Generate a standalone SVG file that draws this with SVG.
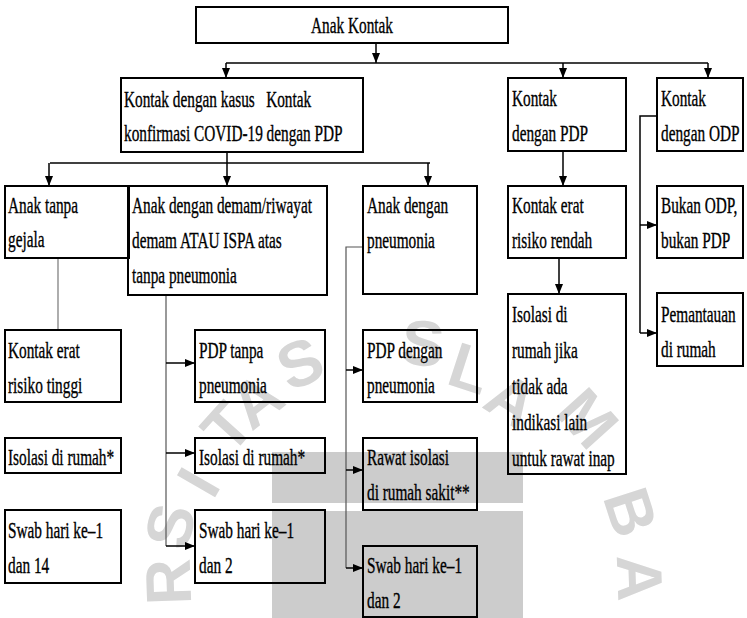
<svg xmlns="http://www.w3.org/2000/svg" width="747" height="618" viewBox="0 0 747 618">
<style>
.t{font-family:"Liberation Serif","Times New Roman",serif;font-size:23px;fill:#000;stroke:#000;stroke-width:0.35}
.b{fill:none;stroke:#000;stroke-width:2}
.c{fill:none;stroke:#000;stroke-width:1.5}
.g{fill:none;stroke:#555;stroke-width:1.2}
.wm{font-family:"Liberation Sans",Arial,sans-serif;font-weight:bold;font-size:64px;fill:#d6d6d6}
</style>
<defs>
<marker id="ah" markerUnits="userSpaceOnUse" markerWidth="10" markerHeight="8" refX="10" refY="4" orient="auto">
<path d="M0,0 L10,4 L0,8 z" fill="#000"/>
</marker>
</defs>
<rect width="747" height="618" fill="#fff"/>
<g id="watermark">
<rect x="272" y="452" width="251" height="51" fill="#cccccc"/>
<rect x="272" y="511" width="251" height="107" fill="#cccccc"/>
<text class="wm" text-anchor="middle" dy="0.35em" transform="translate(168,582) rotate(-92)">R</text>
<text class="wm" text-anchor="middle" dy="0.35em" transform="translate(170,526) rotate(-77)">S</text>
<text class="wm" text-anchor="middle" dy="0.35em" transform="translate(198,482) rotate(-60)">I</text>
<text class="wm" text-anchor="middle" dy="0.35em" transform="translate(227,427) rotate(-48)">T</text>
<text class="wm" text-anchor="middle" dy="0.35em" transform="translate(256,400) rotate(-38)">A</text>
<text class="wm" text-anchor="middle" dy="0.35em" transform="translate(300,363) rotate(-24)">S</text>
<text class="wm" text-anchor="middle" dy="0.35em" transform="translate(423,343) rotate(5)">S</text>
<text class="wm" text-anchor="middle" dy="0.35em" transform="translate(470,368) rotate(18)">L</text>
<text class="wm" text-anchor="middle" dy="0.35em" transform="translate(512,400) rotate(32)">A</text>
<text class="wm" text-anchor="middle" dy="0.35em" transform="translate(588,418) rotate(48)">M</text>
<text class="wm" text-anchor="middle" dy="0.35em" transform="translate(631,512) rotate(72)">B</text>
<text class="wm" text-anchor="middle" dy="0.35em" transform="translate(640,578) rotate(88)">A</text>
</g>
<g id="connectors">
<line class="c" x1="376" y1="43" x2="376" y2="63" marker-end="url(#ah)"/>
<line class="c" x1="226" y1="63" x2="708" y2="63"/>
<line class="c" x1="226" y1="63" x2="226" y2="78" marker-end="url(#ah)"/>
<line class="c" x1="563" y1="63" x2="563" y2="78" marker-end="url(#ah)"/>
<line class="c" x1="708" y1="63" x2="708" y2="78" marker-end="url(#ah)"/>
<line class="c" x1="227" y1="152" x2="227" y2="186" marker-end="url(#ah)"/>
<line class="c" x1="50" y1="163" x2="430" y2="163"/>
<line class="c" x1="49" y1="163" x2="49" y2="186" marker-end="url(#ah)"/>
<line class="c" x1="428" y1="163" x2="428" y2="186" marker-end="url(#ah)"/>
<line class="c" x1="563" y1="151" x2="563" y2="186" marker-end="url(#ah)"/>
<line class="c" x1="559" y1="258" x2="559" y2="294" marker-end="url(#ah)"/>
<polyline class="c" points="657,116 640,116 640,333"/>
<line class="c" x1="640" y1="225" x2="657" y2="225" marker-end="url(#ah)"/>
<line class="c" x1="640" y1="333" x2="657" y2="333" marker-end="url(#ah)"/>
<line x1="58" y1="258" x2="58" y2="330" stroke="#777" stroke-width="1.2"/>
<line class="g" x1="166" y1="295" x2="166" y2="546"/>
<line class="c" x1="166" y1="363" x2="195" y2="363" marker-end="url(#ah)"/>
<line class="c" x1="166" y1="453" x2="195" y2="453" marker-end="url(#ah)"/>
<line class="c" x1="166" y1="546" x2="195" y2="546" marker-end="url(#ah)"/>
<polyline class="g" points="363,247 346,247 346,568"/>
<line class="c" x1="346" y1="370" x2="363" y2="370" marker-end="url(#ah)"/>
<line class="c" x1="346" y1="470" x2="363" y2="470" marker-end="url(#ah)"/>
<line class="c" x1="346" y1="568" x2="363" y2="568" marker-end="url(#ah)"/>
</g>
<g id="n-anak-kontak">
<rect class="b" x="196" y="7" width="312" height="36"/>
<text class="t" text-anchor="middle" transform="translate(352,33) scale(0.665,1)">Anak Kontak</text>
</g>
<g id="n-kontak-kasus">
<rect class="b" x="121" y="78" width="242" height="74"/>
<text class="t" xml:space="preserve" transform="translate(124,107) scale(0.665,1)"><tspan x="0" y="0">Kontak dengan kasus   Kontak</tspan><tspan x="0" y="34">konfirmasi COVID-19 dengan PDP</tspan></text>
</g>
<g id="n-kontak-pdp">
<rect class="b" x="508" y="78" width="118" height="73"/>
<text class="t" transform="translate(512,106) scale(0.665,1)"><tspan x="0" y="0">Kontak</tspan><tspan x="0" y="35">dengan PDP</tspan></text>
</g>
<g id="n-kontak-odp">
<rect class="b" x="657" y="78" width="86" height="73"/>
<text class="t" transform="translate(661,106) scale(0.665,1)"><tspan x="0" y="0">Kontak</tspan><tspan x="0" y="35">dengan ODP</tspan></text>
</g>
<g id="n-tanpa-gejala">
<rect class="b" x="5" y="186" width="124" height="72"/>
<text class="t" transform="translate(8,213) scale(0.665,1)"><tspan x="0" y="0">Anak tanpa</tspan><tspan x="0" y="34">gejala</tspan></text>
</g>
<g id="n-demam">
<rect class="b" x="128" y="186" width="199" height="109"/>
<text class="t" transform="translate(132,213) scale(0.665,1)"><tspan x="0" y="0">Anak dengan demam/riwayat</tspan><tspan x="0" y="35">demam ATAU ISPA atas</tspan><tspan x="0" y="70">tanpa pneumonia</tspan></text>
</g>
<g id="n-pneumonia">
<rect class="b" x="363" y="186" width="114" height="108"/>
<text class="t" transform="translate(367,213) scale(0.665,1)"><tspan x="0" y="0">Anak dengan</tspan><tspan x="0" y="35">pneumonia</tspan></text>
</g>
<g id="n-erat-rendah">
<rect class="b" x="508" y="186" width="118" height="72"/>
<text class="t" transform="translate(512,213) scale(0.665,1)"><tspan x="0" y="0">Kontak erat</tspan><tspan x="0" y="35">risiko rendah</tspan></text>
</g>
<g id="n-bukan-odp">
<rect class="b" x="657" y="186" width="86" height="72"/>
<text class="t" transform="translate(661,213) scale(0.665,1)"><tspan x="0" y="0">Bukan ODP,</tspan><tspan x="0" y="35">bukan PDP</tspan></text>
</g>
<g id="n-erat-tinggi">
<rect class="b" x="5" y="330" width="116" height="72"/>
<text class="t" transform="translate(8,358) scale(0.665,1)"><tspan x="0" y="0">Kontak erat</tspan><tspan x="0" y="35">risiko tinggi</tspan></text>
</g>
<g id="n-isolasi-1">
<rect class="b" x="5" y="438" width="116" height="35"/>
<text class="t" transform="translate(8,465) scale(0.665,1)">Isolasi di rumah*</text>
</g>
<g id="n-swab-1">
<rect class="b" x="5" y="510" width="116" height="73"/>
<text class="t" transform="translate(8,538) scale(0.665,1)"><tspan x="0" y="0">Swab hari ke–1</tspan><tspan x="0" y="35">dan 14</tspan></text>
</g>
<g id="n-pdp-tanpa">
<rect class="b" x="195" y="330" width="130" height="72"/>
<text class="t" transform="translate(199,358) scale(0.665,1)"><tspan x="0" y="0">PDP tanpa</tspan><tspan x="0" y="35">pneumonia</tspan></text>
</g>
<g id="n-isolasi-2">
<rect class="b" x="195" y="438" width="130" height="35"/>
<text class="t" transform="translate(199,465) scale(0.665,1)">Isolasi di rumah*</text>
</g>
<g id="n-swab-2">
<rect class="b" x="195" y="510" width="130" height="73"/>
<text class="t" transform="translate(199,538) scale(0.665,1)"><tspan x="0" y="0">Swab hari ke–1</tspan><tspan x="0" y="35">dan 2</tspan></text>
</g>
<g id="n-pdp-dengan">
<rect class="b" x="363" y="330" width="114" height="72"/>
<text class="t" transform="translate(367,358) scale(0.665,1)"><tspan x="0" y="0">PDP dengan</tspan><tspan x="0" y="35">pneumonia</tspan></text>
</g>
<g id="n-rawat">
<rect class="b" x="363" y="438" width="114" height="72"/>
<text class="t" transform="translate(367,465) scale(0.665,1)"><tspan x="0" y="0">Rawat isolasi</tspan><tspan x="0" y="35">di rumah sakit**</tspan></text>
</g>
<g id="n-swab-3">
<rect class="b" x="363" y="546" width="114" height="71"/>
<text class="t" transform="translate(367,573) scale(0.665,1)"><tspan x="0" y="0">Swab hari ke–1</tspan><tspan x="0" y="35">dan 2</tspan></text>
</g>
<g id="n-isolasi-jika">
<rect class="b" x="508" y="294" width="118" height="180"/>
<text class="t" transform="translate(512,322) scale(0.665,1)"><tspan x="0" y="0">Isolasi di</tspan><tspan x="0" y="36">rumah jika</tspan><tspan x="0" y="72">tidak ada</tspan><tspan x="0" y="108">indikasi lain</tspan><tspan x="0" y="144">untuk rawat inap</tspan></text>
</g>
<g id="n-pemantauan">
<rect class="b" x="657" y="293" width="86" height="73"/>
<text class="t" transform="translate(661,322) scale(0.665,1)"><tspan x="0" y="0">Pemantauan</tspan><tspan x="0" y="35">di rumah</tspan></text>
</g>
</svg>
